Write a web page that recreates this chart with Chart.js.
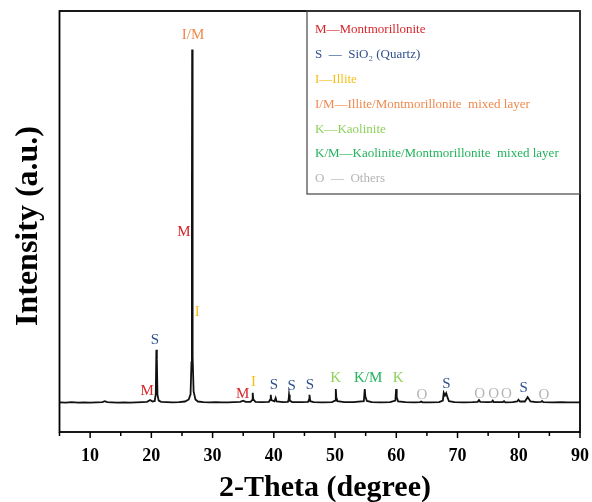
<!DOCTYPE html>
<html lang="en">
<head>
  <meta charset="UTF-8" />
  <title>XRD pattern</title>
  <script src="https://cdn.jsdelivr.net/npm/chart.js"></script>
  <style>
    html, body { margin: 0; padding: 0; background: #fff; }
    .chart-wrapper { width: 592px; height: 502px; }
  </style>
</head>
<body>
<div class="chart-wrapper"><canvas id="xrdChart"></canvas></div>

<script>
  // 2-theta positions and intensity (a.u.)
  const twoTheta = [
    5.0, 6.0, 7.0, 8.0, 9.0, 10.0, 11.0, 12.0, 12.4, 12.8, 13.5, 14.5, 15.5, 16.5, 17.5, 18.5,
    19.3, 19.8, 20.2, 20.55, 20.72, 20.82, 20.9, 21.0, 21.2, 21.6, 22.5, 23.5, 24.5, 25.5,
    26.1, 26.4, 26.55, 26.62, 26.66, 26.7, 26.78, 26.9, 27.2, 27.6, 28.5, 29.5, 30.5, 31.5,
    32.5, 33.5, 34.5, 35.0, 35.4, 36.2, 36.45, 36.55, 36.65, 37.0, 38.0, 39.2, 39.42, 39.5,
    39.6, 40.1, 40.3, 40.45, 41.5, 42.3, 42.42, 42.48, 42.6, 43.0, 44.5, 45.6, 45.75, 45.82,
    45.95, 46.5, 48.0, 49.5, 50.0, 50.12, 50.2, 50.4, 51.5, 53.0, 54.7, 54.85, 54.95, 55.2,
    56.0, 57.5, 59.0, 59.85, 59.97, 60.07, 60.3, 61.5, 63.0, 63.9, 64.05, 64.3, 65.5, 67.0,
    67.6, 67.75, 67.95, 68.15, 68.35, 68.6, 69.5, 71.0, 72.5, 73.3, 73.5, 73.7, 75.0, 75.6,
    75.75, 75.9, 77.4, 77.6, 77.8, 79.0, 79.75, 79.95, 80.2, 81.0, 81.45, 81.65, 81.9, 82.8,
    83.65, 83.8, 84.0, 85.5, 87.0, 88.0, 89.0, 90.0
  ];
  const intensity = [
    2, 1, 3, 1, 2, 1, 2, 3, 6, 3, 2, 1, 2, 1, 2, 3,
    4, 10, 5, 7, 30, 183, 150, 28, 8, 4, 3, 2, 3, 5,
    12, 30, 140, 700, 1217, 800, 160, 40, 12, 5, 3, 2, 3, 2,
    2, 3, 4, 8, 4, 4, 10, 35, 12, 4, 3, 4, 12, 28,
    10, 6, 17, 5, 3, 4, 12, 28, 8, 3, 3, 4, 12, 28,
    6, 3, 2, 3, 8, 48, 20, 6, 3, 3, 6, 48, 22, 7,
    3, 2, 3, 8, 48, 20, 5, 3, 2, 3, 5, 2, 2, 3,
    8, 35, 26, 34, 20, 6, 3, 2, 3, 4, 10, 4, 3, 4,
    8, 3, 3, 6, 2, 3, 5, 11, 5, 5, 20, 14, 5, 3,
    4, 7, 3, 2, 3, 2, 2, 2
  ];

  const xTickValues = [10, 20, 30, 40, 50, 60, 70, 80, 90];
  const xMinorTicks = [5, 15, 25, 35, 45, 55, 65, 75, 85];

  // peak labels: phase key, 2-theta, intensity where the label sits
  const peakPhase = ['I/M', 'M', 'I', 'S', 'M', 'M', 'I', 'S', 'S', 'S', 'K', 'K/M', 'K', 'O', 'S', 'O', 'O', 'O', 'S', 'O'];
  const peakX =     [26.8, 25.3, 27.5, 20.6, 19.3, 34.9, 36.7, 40.0, 42.9, 45.9, 50.1, 55.4, 60.3, 64.2, 68.2, 73.6, 75.9, 78.0, 80.8, 84.1];
  const peakY =     [1267, 587, 314, 217, 41, 31, 72, 62, 59, 62, 86, 86, 86, 28, 66, 31, 31, 31, 52, 28];

  const legendPhase = ['M', 'S', 'I', 'I/M', 'K', 'K/M', 'O'];
  const legendText = [
    'M\u2014Montmorillonite',
    'S  \u2014  SiO\u2082 (Quartz)',
    'I\u2014Illite',
    'I/M\u2014Illite/Montmorillonite  mixed layer',
    'K\u2014Kaolinite',
    'K/M\u2014Kaolinite/Montmorillonite  mixed layer',
    'O  \u2014  Others'
  ];

  const coresFase = {
    'M': '#d7262b',
    'S': '#2f4f8f',
    'I': '#f6be1a',
    'I/M': '#ee8a4e',
    'K': '#8fd05a',
    'K/M': '#22b35c',
    'O': '#b4b4b4'
  };

  const serif = '"Liberation Serif", "Times New Roman", serif';

  const desenhoExtra = {
    id: 'desenhoExtra',
    afterDraw(chart) {
      const ctx = chart.ctx;
      const area = chart.chartArea;
      const xs = chart.scales.x;
      const ys = chart.scales.y;
      ctx.save();

      // frame
      ctx.strokeStyle = '#000';
      ctx.lineWidth = 1.8;
      ctx.strokeRect(area.left, area.top, area.right - area.left, area.bottom - area.top);

      // outward ticks
      ctx.lineWidth = 1.5;
      xTickValues.forEach((v) => {
        const px = xs.getPixelForValue(v);
        ctx.beginPath();
        ctx.moveTo(px, area.bottom);
        ctx.lineTo(px, area.bottom + 6);
        ctx.stroke();
      });
      xMinorTicks.forEach((v) => {
        const px = xs.getPixelForValue(v);
        ctx.beginPath();
        ctx.moveTo(px, area.bottom);
        ctx.lineTo(px, area.bottom + 4);
        ctx.stroke();
      });

      // peak labels
      ctx.font = '15px ' + serif;
      ctx.textAlign = 'center';
      ctx.textBaseline = 'middle';
      peakPhase.forEach((fase, i) => {
        ctx.fillStyle = coresFase[fase];
        ctx.fillText(fase, xs.getPixelForValue(peakX[i]), ys.getPixelForValue(peakY[i]));
      });

      // legend box
      const boxLeft = 307;
      const boxTop = area.top;
      const boxW = area.right - boxLeft;
      ctx.lineWidth = 1.2;
      ctx.strokeStyle = '#444';
      ctx.strokeRect(boxLeft, boxTop, boxW, 183);
      ctx.font = '13px ' + serif;
      ctx.textAlign = 'left';
      legendText.forEach((txt, i) => {
        ctx.fillStyle = coresFase[legendPhase[i]];
        ctx.fillText(txt, boxLeft + 8, boxTop + 19 + i * 24.8);
      });

      // axis titles
      ctx.fillStyle = '#000';
      ctx.font = 'bold 30px ' + serif;
      ctx.textAlign = 'center';
      ctx.fillText('2-Theta (degree)', 325, 488);
      ctx.translate(29, 226);
      ctx.rotate(-Math.PI / 2);
      ctx.font = 'bold 32px ' + serif;
      ctx.fillText('Intensity (a.u.)', 0, 0);

      ctx.restore();
    }
  };

  new Chart(document.getElementById('xrdChart'), {
    type: 'line',
    data: {
      datasets: [{
        data: twoTheta.map((t, i) => ({ x: t, y: intensity[i] })),
        borderColor: '#111',
        borderWidth: 1.8,
        pointRadius: 0,
        tension: 0,
        fill: false
      }]
    },
    options: {
      responsive: true,
      maintainAspectRatio: false,
      animation: false,
      layout: { padding: { left: 59.5, right: 12, top: 11, bottom: 30 } },
      plugins: { legend: { display: false }, tooltip: { enabled: false } },
      scales: {
        x: {
          type: 'linear',
          min: 5,
          max: 90,
          afterBuildTicks: (scale) => { scale.ticks = xTickValues.map((v) => ({ value: v })); },
          afterFit: (scale) => {
            scale.paddingLeft = 0;
            scale.paddingRight = 0;
            scale.height = 40;
          },
          grid: { display: false, drawTicks: false },
          border: { display: false },
          ticks: {
            padding: 14,
            color: '#000',
            font: { family: serif, size: 18, weight: 'bold' }
          }
        },
        y: {
          display: false,
          min: -100,
          max: 1350
        }
      }
    },
    plugins: [desenhoExtra]
  });
</script>
</body>
</html>
